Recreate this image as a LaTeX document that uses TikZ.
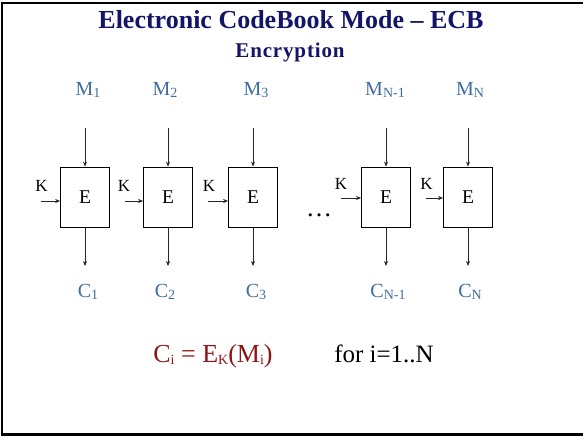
\documentclass[tikz,border=0pt]{standalone}
\usepackage{fontspec}
\setmainfont{Liberation Serif}
\usetikzlibrary{arrows.meta, positioning}
\definecolor{titlenavy}{RGB}{20,20,105}
\definecolor{labelblue}{RGB}{62,108,160}
\definecolor{formred}{RGB}{140,22,22}
\newcommand{\lowidx}[1]{\raisebox{-2pt}{\fontsize{14}{14}\selectfont #1}}

\begin{document}
\begin{tikzpicture}[
  x=1pt, y=-1pt,
  >={Stealth[length=5pt,width=4pt]},
  cipher/.style={
    rectangle, draw=black, line width=0.8pt,
    minimum width=49pt, minimum height=60pt, inner sep=0pt,
    font=\fontsize{19.5}{19.5}\selectfont
  },
  blocklabel/.style={text=labelblue, font=\fontsize{20}{20}\selectfont, inner sep=0pt, anchor=base},
  keylabel/.style={font=\fontsize{17}{17}\selectfont, inner sep=0pt, anchor=base},
  arrow/.style={->, line width=0.6pt, draw=black!85}
]
\useasboundingbox (0,0) rectangle (583,436);

% Frame
\draw[line width=2.5pt] (2,3) rectangle (600,434.5);

% Titles
\node[text=titlenavy, font=\fontsize{26}{26}\bfseries, anchor=base] (title) at (291,29) {Electronic CodeBook Mode -- ECB};
\node[text=titlenavy, font=\fontsize{21}{21}\bfseries, anchor=base] (subtitle) at (290,58) {\addfontfeature{LetterSpace=4}Encryption};

% Cipher blocks
\node[cipher] (e1) at (85,197) {E};
\node[cipher] (e2) at (168,197) {E};
\node[cipher] (e3) at (253,197) {E};
\node[cipher] (e4) at (386,197) {E};
\node[cipher] (e5) at (468,197) {E};
\node[font=\fontsize{26}{26}\selectfont, anchor=base] (dots) at (319,216) {\dots};

% Plaintext and ciphertext labels
\node[blocklabel] (m1) at (88,95) {M\lowidx{1}};
\node[blocklabel] (m2) at (165,95) {M\lowidx{2}};
\node[blocklabel] (m3) at (256,95) {M\lowidx{3}};
\node[blocklabel] (m4) at (385,95) {M\lowidx{N-1}};
\node[blocklabel] (m5) at (470,95) {M\lowidx{N}};
\node[blocklabel] (c1) at (88,297) {C\lowidx{1}};
\node[blocklabel] (c2) at (165,297) {C\lowidx{2}};
\node[blocklabel] (c3) at (256,297) {C\lowidx{3}};
\node[blocklabel] (c4) at (388,297) {C\lowidx{N-1}};
\node[blocklabel] (c5) at (470,297) {C\lowidx{N}};

% Key labels
\node[keylabel] (k1) at (41.5,191) {K};
\node[keylabel] (k2) at (124,191) {K};
\node[keylabel] (k3) at (209,191) {K};
\node[keylabel] (k4) at (341,189) {K};
\node[keylabel] (k5) at (426.5,189) {K};

% Arrow ends
\coordinate (in1) at (85,128);
\coordinate (in2) at (168,128);
\coordinate (in3) at (253,128);
\coordinate (in4) at (386,128);
\coordinate (in5) at (468,128);
\coordinate (out1) at (85,266);
\coordinate (out2) at (168,266);
\coordinate (out3) at (253,266);
\coordinate (out4) at (386,266);
\coordinate (out5) at (468,266);
\coordinate (key1) at (40.5,201);
\coordinate (key2) at (125,201);
\coordinate (key3) at (208,201);
\coordinate (key4) at (341,198);
\coordinate (key5) at (426,198);

% Arrows
\draw[arrow] (in1) -- (e1);
\draw[arrow] (in2) -- (e2);
\draw[arrow] (in3) -- (e3);
\draw[arrow] (in4) -- (e4);
\draw[arrow] (in5) -- (e5);
\draw[arrow] (e1) -- (out1);
\draw[arrow] (e2) -- (out2);
\draw[arrow] (e3) -- (out3);
\draw[arrow] (e4) -- (out4);
\draw[arrow] (e5) -- (out5);
\draw[arrow] (key1) -- (key1 -| e1.west);
\draw[arrow] (key2) -- (key2 -| e2.west);
\draw[arrow] (key3) -- (key3 -| e3.west);
\draw[arrow] (key4) -- (key4 -| e4.west);
\draw[arrow] (key5) -- (key5 -| e5.west);

% Formula
\node[text=formred, font=\fontsize{26}{26}\selectfont, anchor=base] (formula) at (213,362) {C\lowidx{i} = E\lowidx{K}(M\lowidx{i})};
\node[font=\fontsize{25}{25}\selectfont, anchor=base] (range) at (384,362) {for i=1..N};
\end{tikzpicture}
\end{document}
